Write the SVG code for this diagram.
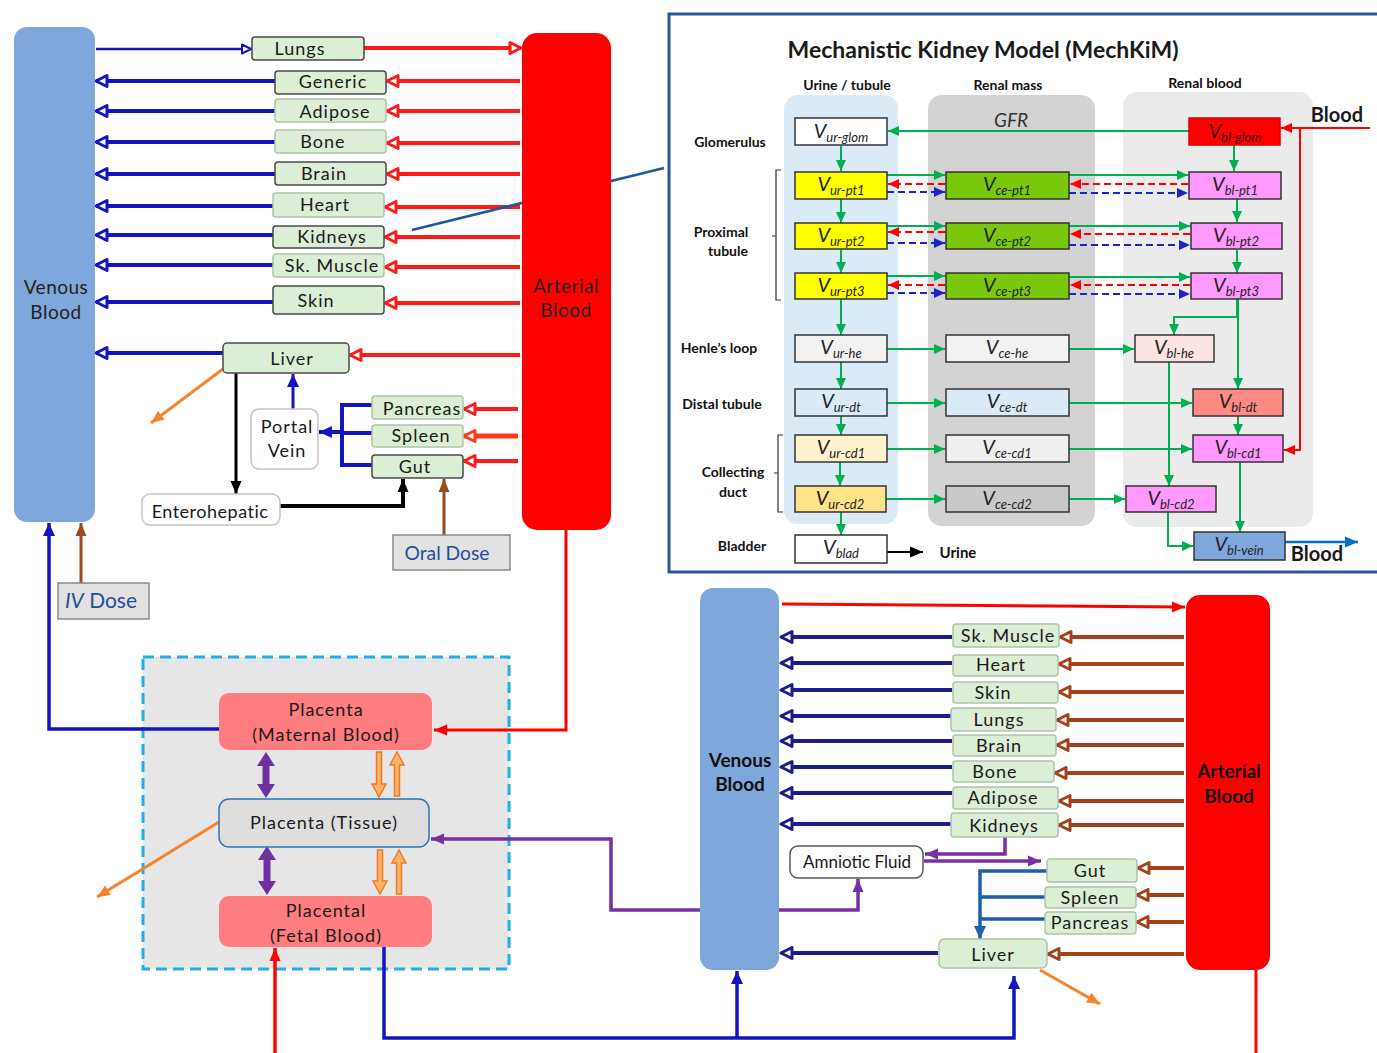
<svg xmlns="http://www.w3.org/2000/svg" width="1377" height="1053" viewBox="0 0 1377 1053">
<style>
  text{font-family:Lato,"Open Sans","Liberation Sans",sans-serif;fill:#1a1a1a}
  .org{fill:#DCEED5;stroke:#4a4a4a;stroke-width:1.5}
  .orgl{fill:#DCEED5;stroke:#b0c4aa;stroke-width:1.5}
  .lb{font-size:18px;text-anchor:middle;letter-spacing:1px}
  .vein{fill:#7FA7DB}
  .art{fill:#FF0000}
  .bigb{font-size:19px;text-anchor:middle;font-weight:bold;fill:#111}
  .bign{font-size:19px;text-anchor:middle;letter-spacing:0.5px;fill:#222}
  .wbox{fill:#fff;stroke:#c4c4c4;stroke-width:1.5}
  .pl{fill:#FF7C80}
  .kb{stroke:#333;stroke-width:1.5}
  .kv{font-size:20px;font-style:italic;text-anchor:middle;fill:#222}
  .ks{font-size:13px}
  .kl{font-size:14px;font-weight:bold;text-anchor:middle;fill:#111}
  .b4{stroke:#1414C3;stroke-width:4;fill:none}
  .r4{stroke:#FF1A1A;stroke-width:4;fill:none}
  .nv{stroke:#1C1C8E;stroke-width:4;fill:none}
  .br{stroke:#A3421A;stroke-width:4;fill:none}
  .g2{stroke:#00B050;stroke-width:2;fill:none}
  .rd{stroke:#FF0000;stroke-width:2;fill:none;stroke-dasharray:7 4}
  .bd{stroke:#2020C8;stroke-width:2;fill:none;stroke-dasharray:7 4}
  .pu{stroke:#7B2FA6;stroke-width:3.5;fill:none}
  .or{stroke:#F7842A;stroke-width:3;fill:none}
  .blk{stroke:#000;fill:none}
  .oa{fill:#FFB26B;stroke:#F0781E;stroke-width:1.5}
  .pa{fill:#7030A0}
</style>
<defs>
  <marker id="hBlue" markerUnits="userSpaceOnUse" markerWidth="16" markerHeight="16" viewBox="0 0 16 16" refX="14" refY="8" orient="auto">
    <path d="M3,2.5 L14,8 L3,13.5 Z" fill="#fff" stroke="#1414C3" stroke-width="3" stroke-linejoin="round"/>
  </marker>
  <marker id="hBlueS" markerUnits="userSpaceOnUse" markerWidth="14" markerHeight="14" viewBox="0 0 14 14" refX="12" refY="7" orient="auto">
    <path d="M3,2.5 L12,7 L3,11.5 Z" fill="#fff" stroke="#1414C3" stroke-width="2" stroke-linejoin="round"/>
  </marker>
  <marker id="hRed" markerUnits="userSpaceOnUse" markerWidth="16" markerHeight="16" viewBox="0 0 16 16" refX="14" refY="8" orient="auto">
    <path d="M3,2.5 L14,8 L3,13.5 Z" fill="#fff" stroke="#FF1A1A" stroke-width="3" stroke-linejoin="round"/>
  </marker>
  <marker id="hOrRed" markerUnits="userSpaceOnUse" markerWidth="16" markerHeight="16" viewBox="0 0 16 16" refX="14" refY="8" orient="auto">
    <path d="M3,2.5 L14,8 L3,13.5 Z" fill="#fff" stroke="#FF3A1A" stroke-width="3" stroke-linejoin="round"/>
  </marker>
  <marker id="hNavy" markerUnits="userSpaceOnUse" markerWidth="16" markerHeight="16" viewBox="0 0 16 16" refX="14" refY="8" orient="auto">
    <path d="M3,2.5 L14,8 L3,13.5 Z" fill="#fff" stroke="#1C1C8E" stroke-width="3" stroke-linejoin="round"/>
  </marker>
  <marker id="hBrown" markerUnits="userSpaceOnUse" markerWidth="16" markerHeight="16" viewBox="0 0 16 16" refX="14" refY="8" orient="auto">
    <path d="M3,2.5 L14,8 L3,13.5 Z" fill="#fff" stroke="#A3421A" stroke-width="3" stroke-linejoin="round"/>
  </marker>
  <marker id="fBlue" markerUnits="userSpaceOnUse" markerWidth="14" markerHeight="14" viewBox="0 0 14 14" refX="13" refY="7" orient="auto">
    <path d="M0,1 L13,7 L0,13 Z" fill="#1414C3"/>
  </marker>
  <marker id="fMed" markerUnits="userSpaceOnUse" markerWidth="14" markerHeight="14" viewBox="0 0 14 14" refX="13" refY="7" orient="auto">
    <path d="M0,1 L13,7 L0,13 Z" fill="#1F5FAA"/>
  </marker>
  <marker id="fRed" markerUnits="userSpaceOnUse" markerWidth="14" markerHeight="14" viewBox="0 0 14 14" refX="13" refY="7" orient="auto">
    <path d="M0,1.5 L13,7 L0,12.5 Z" fill="#FF0000"/>
  </marker>
  <marker id="fBlack" markerUnits="userSpaceOnUse" markerWidth="14" markerHeight="14" viewBox="0 0 14 14" refX="13" refY="7" orient="auto">
    <path d="M0,1.5 L13,7 L0,12.5 Z" fill="#000"/>
  </marker>
  <marker id="fBrown" markerUnits="userSpaceOnUse" markerWidth="14" markerHeight="14" viewBox="0 0 14 14" refX="13" refY="7" orient="auto">
    <path d="M0,1.5 L13,7 L0,12.5 Z" fill="#9B4A1C"/>
  </marker>
  <marker id="fOrange" markerUnits="userSpaceOnUse" markerWidth="14" markerHeight="14" viewBox="0 0 14 14" refX="13" refY="7" orient="auto">
    <path d="M0,1.5 L13,7 L0,12.5 Z" fill="#F7842A"/>
  </marker>
  <marker id="fPurple" markerUnits="userSpaceOnUse" markerWidth="14" markerHeight="14" viewBox="0 0 14 14" refX="13" refY="7" orient="auto">
    <path d="M0,1.5 L13,7 L0,12.5 Z" fill="#7B2FA6"/>
  </marker>
  <marker id="fGreen" markerUnits="userSpaceOnUse" markerWidth="12" markerHeight="12" viewBox="0 0 12 12" refX="11" refY="6" orient="auto">
    <path d="M0,1 L11,6 L0,11 Z" fill="#00B050"/>
  </marker>
  <marker id="fKRed" markerUnits="userSpaceOnUse" markerWidth="12" markerHeight="12" viewBox="0 0 12 12" refX="11" refY="6" orient="auto">
    <path d="M0,1 L11,6 L0,11 Z" fill="#FF0000"/>
  </marker>
  <marker id="fKBlue" markerUnits="userSpaceOnUse" markerWidth="12" markerHeight="12" viewBox="0 0 12 12" refX="11" refY="6" orient="auto">
    <path d="M0,1 L11,6 L0,11 Z" fill="#2020C8"/>
  </marker>
  <marker id="fSky" markerUnits="userSpaceOnUse" markerWidth="14" markerHeight="14" viewBox="0 0 14 14" refX="13" refY="7" orient="auto">
    <path d="M0,1.5 L13,7 L0,12.5 Z" fill="#0070C0"/>
  </marker>
</defs>

<!-- panels and frames drawn underneath everything -->
<g id="backgrounds">
  <rect x="669" y="14" width="720" height="558" fill="#fff" stroke="#2A5699" stroke-width="3"/>
  <rect x="784" y="95" width="114" height="429" rx="14" fill="#DAEAF7"/>
  <rect x="928" y="95" width="167" height="431" rx="14" fill="#D3D3D3"/>
  <rect x="1123" y="92" width="190" height="435" rx="14" fill="#EBEBEB"/>
  <rect x="143" y="657" width="366" height="312" fill="#E6E6E6" stroke="#1EB0EE" stroke-width="3" stroke-dasharray="11 6"/>
</g>

<g id="connectors">
  <!-- maternal whole body -->
  <line x1="96" y1="49" x2="251" y2="49" stroke="#1414C3" stroke-width="2.5" marker-end="url(#hBlueS)"/>
  <line x1="364" y1="48" x2="521" y2="48" class="r4" marker-end="url(#hRed)"/>
  <line x1="275" y1="81" x2="96" y2="81" class="b4" marker-end="url(#hBlue)"/>
  <line x1="520" y1="81" x2="387" y2="81" class="r4" marker-end="url(#hRed)"/>
  <line x1="275" y1="111" x2="96" y2="111" class="b4" marker-end="url(#hBlue)"/>
  <line x1="520" y1="111" x2="387" y2="111" class="r4" marker-end="url(#hRed)"/>
  <line x1="275" y1="142" x2="96" y2="142" class="b4" marker-end="url(#hBlue)"/>
  <line x1="520" y1="143" x2="387" y2="143" class="r4" marker-end="url(#hRed)"/>
  <line x1="275" y1="174" x2="96" y2="174" class="b4" marker-end="url(#hBlue)"/>
  <line x1="520" y1="174" x2="387" y2="174" class="r4" marker-end="url(#hRed)"/>
  <line x1="273" y1="206" x2="96" y2="206" class="b4" marker-end="url(#hBlue)"/>
  <line x1="520" y1="207" x2="385" y2="207" class="r4" marker-end="url(#hRed)"/>
  <line x1="273" y1="235" x2="96" y2="235" class="b4" marker-end="url(#hBlue)"/>
  <line x1="520" y1="237" x2="385" y2="237" class="r4" marker-end="url(#hRed)"/>
  <line x1="273" y1="265" x2="96" y2="265" class="b4" marker-end="url(#hBlue)"/>
  <line x1="520" y1="267" x2="385" y2="267" class="r4" marker-end="url(#hRed)"/>
  <line x1="273" y1="302" x2="96" y2="302" class="b4" marker-end="url(#hBlue)"/>
  <line x1="520" y1="303" x2="385" y2="303" class="r4" marker-end="url(#hRed)"/>
  <line x1="412" y1="230" x2="664" y2="168" stroke="#1F5A96" stroke-width="2.5"/>
  <!-- liver and splanchnic organs -->
  <line x1="223" y1="353" x2="96" y2="353" class="b4" marker-end="url(#hBlue)"/>
  <line x1="520" y1="355" x2="350" y2="355" class="r4" marker-end="url(#hRed)"/>
  <line x1="223" y1="369" x2="151" y2="423" class="or" marker-end="url(#fOrange)"/>
  <line x1="236" y1="373" x2="236" y2="494" class="blk" stroke-width="3" marker-end="url(#fBlack)"/>
  <polyline points="280,506 403,506 403,479" class="blk" stroke-width="4" marker-end="url(#fBlack)"/>
  <line x1="293" y1="409" x2="293" y2="374" stroke="#1414C3" stroke-width="3" marker-end="url(#fBlue)"/>
  <polyline points="372,405 342,405 342,465 372,465" class="b4"/>
  <line x1="372" y1="433" x2="342" y2="433" class="b4"/>
  <line x1="342" y1="432" x2="319" y2="432" stroke="#1414C3" stroke-width="4" marker-end="url(#fBlue)"/>
  <line x1="518" y1="409" x2="464" y2="409" class="r4" marker-end="url(#hRed)"/>
  <line x1="518" y1="436" x2="464" y2="436" stroke="#FF3A1A" stroke-width="5" marker-end="url(#hOrRed)"/>
  <line x1="518" y1="461" x2="464" y2="461" class="r4" marker-end="url(#hRed)"/>
  <line x1="444" y1="535" x2="444" y2="479" stroke="#9B4A1C" stroke-width="3" marker-end="url(#fBrown)"/>
  <line x1="81" y1="583" x2="81" y2="523" stroke="#9B4A1C" stroke-width="3" marker-end="url(#fBrown)"/>
  <polyline points="220,729 49,729 49,523" stroke="#1414C3" stroke-width="3.5" fill="none" marker-end="url(#fBlue)"/>
  <polyline points="566,530 566,730 434,730" stroke="#FF0000" stroke-width="3" fill="none" marker-end="url(#fRed)"/>
  <!-- placenta -->
  <line x1="219" y1="822" x2="97" y2="897" class="or" marker-end="url(#fOrange)"/>
  <polyline points="700,910 611,910 611,839 431,839" class="pu" stroke-width="3" marker-end="url(#fPurple)"/>
  <line x1="275" y1="1053" x2="275" y2="948" stroke="#FF0000" stroke-width="3.5" marker-end="url(#fRed)"/>
  <polyline points="384,947 384,1038 1014,1038 1014,976" stroke="#1414C3" stroke-width="3.5" fill="none" marker-end="url(#fBlue)"/>
  <line x1="737" y1="1038" x2="737" y2="971" stroke="#1414C3" stroke-width="3.5" marker-end="url(#fBlue)"/>
  <!-- fetal whole body -->
  <line x1="782" y1="604" x2="1185" y2="607" stroke="#FF0000" stroke-width="3" marker-end="url(#fRed)"/>
  <line x1="952" y1="637" x2="781" y2="637" class="nv" marker-end="url(#hNavy)"/>
  <line x1="1184" y1="637" x2="1060" y2="637" class="br" marker-end="url(#hBrown)"/>
  <line x1="952" y1="663" x2="781" y2="663" class="nv" marker-end="url(#hNavy)"/>
  <line x1="1184" y1="664" x2="1059" y2="664" class="br" marker-end="url(#hBrown)"/>
  <line x1="952" y1="690" x2="781" y2="690" class="nv" marker-end="url(#hNavy)"/>
  <line x1="1184" y1="692" x2="1059" y2="692" class="br" marker-end="url(#hBrown)"/>
  <line x1="951" y1="716" x2="781" y2="716" class="nv" marker-end="url(#hNavy)"/>
  <line x1="1184" y1="720" x2="1057" y2="720" class="br" marker-end="url(#hBrown)"/>
  <line x1="952" y1="741" x2="781" y2="741" class="nv" marker-end="url(#hNavy)"/>
  <line x1="1184" y1="745" x2="1057" y2="745" class="br" marker-end="url(#hBrown)"/>
  <line x1="952" y1="767" x2="781" y2="767" class="nv" marker-end="url(#hNavy)"/>
  <line x1="1184" y1="773" x2="1055" y2="773" class="br" marker-end="url(#hBrown)"/>
  <line x1="952" y1="793" x2="781" y2="793" class="nv" marker-end="url(#hNavy)"/>
  <line x1="1184" y1="801" x2="1059" y2="801" class="br" marker-end="url(#hBrown)"/>
  <line x1="951" y1="824" x2="781" y2="824" class="nv" marker-end="url(#hNavy)"/>
  <line x1="1184" y1="825" x2="1059" y2="825" class="br" marker-end="url(#hBrown)"/>
  <polyline points="1005,837 1005,854 925,854" class="pu" marker-end="url(#fPurple)"/>
  <line x1="924" y1="861" x2="1041" y2="861" class="pu" marker-end="url(#fPurple)"/>
  <polyline points="779,910 858,910 858,879" class="pu" marker-end="url(#fPurple)"/>
  <polyline points="1047,871 980,871 980,939" stroke="#1F5FAA" stroke-width="3.5" fill="none" marker-end="url(#fMed)"/>
  <line x1="1045" y1="897" x2="980" y2="897" stroke="#1F5FAA" stroke-width="3.5"/>
  <line x1="1045" y1="919" x2="980" y2="919" stroke="#1F5FAA" stroke-width="3.5"/>
  <line x1="938" y1="953" x2="781" y2="953" class="nv" marker-end="url(#hNavy)"/>
  <line x1="1184" y1="868" x2="1138" y2="868" class="br" marker-end="url(#hBrown)"/>
  <line x1="1184" y1="895" x2="1137" y2="895" class="br" marker-end="url(#hBrown)"/>
  <line x1="1184" y1="922" x2="1137" y2="922" class="br" marker-end="url(#hBrown)"/>
  <line x1="1184" y1="954" x2="1048" y2="954" class="br" marker-end="url(#hBrown)"/>
  <line x1="1040" y1="970" x2="1100" y2="1004" class="or" marker-end="url(#fOrange)"/>
  <line x1="1256" y1="970" x2="1256" y2="1053" stroke="#FF0000" stroke-width="3"/>
  <!-- kidney model flows -->
  <line x1="841" y1="146" x2="841" y2="171" class="g2" marker-end="url(#fGreen)"/>
  <line x1="841" y1="199" x2="841" y2="223" class="g2" marker-end="url(#fGreen)"/>
  <line x1="841" y1="250" x2="841" y2="273" class="g2" marker-end="url(#fGreen)"/>
  <line x1="841" y1="299" x2="841" y2="335" class="g2" marker-end="url(#fGreen)"/>
  <line x1="841" y1="362" x2="841" y2="389" class="g2" marker-end="url(#fGreen)"/>
  <line x1="841" y1="416" x2="841" y2="435" class="g2" marker-end="url(#fGreen)"/>
  <line x1="840" y1="462" x2="840" y2="486" class="g2" marker-end="url(#fGreen)"/>
  <line x1="841" y1="512" x2="841" y2="535" class="g2" marker-end="url(#fGreen)"/>
  <line x1="1189" y1="131" x2="888" y2="131" class="g2" marker-end="url(#fGreen)"/>
  <line x1="887" y1="175" x2="945" y2="175" class="g2" marker-end="url(#fGreen)"/>
  <line x1="1069" y1="175" x2="1188" y2="175" class="g2" marker-end="url(#fGreen)"/>
  <line x1="945" y1="184" x2="888" y2="184" class="rd" marker-end="url(#fKRed)"/>
  <line x1="1188" y1="184" x2="1070" y2="184" class="rd" marker-end="url(#fKRed)"/>
  <line x1="887" y1="192" x2="945" y2="192" class="bd" marker-end="url(#fKBlue)"/>
  <line x1="1069" y1="193" x2="1188" y2="193" class="bd" marker-end="url(#fKBlue)"/>
  <line x1="887" y1="226" x2="945" y2="226" class="g2" marker-end="url(#fGreen)"/>
  <line x1="1069" y1="226" x2="1190" y2="226" class="g2" marker-end="url(#fGreen)"/>
  <line x1="945" y1="232" x2="888" y2="232" class="rd" marker-end="url(#fKRed)"/>
  <line x1="1190" y1="234" x2="1070" y2="234" class="rd" marker-end="url(#fKRed)"/>
  <line x1="887" y1="243" x2="945" y2="243" class="bd" marker-end="url(#fKBlue)"/>
  <line x1="1069" y1="245" x2="1190" y2="245" class="bd" marker-end="url(#fKBlue)"/>
  <line x1="887" y1="276" x2="945" y2="276" class="g2" marker-end="url(#fGreen)"/>
  <line x1="1069" y1="277" x2="1190" y2="277" class="g2" marker-end="url(#fGreen)"/>
  <line x1="945" y1="285" x2="888" y2="285" class="rd" marker-end="url(#fKRed)"/>
  <line x1="1190" y1="285" x2="1070" y2="285" class="rd" marker-end="url(#fKRed)"/>
  <line x1="887" y1="293" x2="945" y2="293" class="bd" marker-end="url(#fKBlue)"/>
  <line x1="1069" y1="294" x2="1190" y2="294" class="bd" marker-end="url(#fKBlue)"/>
  <line x1="887" y1="349" x2="945" y2="349" class="g2" marker-end="url(#fGreen)"/>
  <line x1="1069" y1="349" x2="1134" y2="349" class="g2" marker-end="url(#fGreen)"/>
  <line x1="887" y1="403" x2="945" y2="403" class="g2" marker-end="url(#fGreen)"/>
  <line x1="1069" y1="403" x2="1192" y2="403" class="g2" marker-end="url(#fGreen)"/>
  <line x1="887" y1="449" x2="945" y2="449" class="g2" marker-end="url(#fGreen)"/>
  <line x1="1069" y1="449" x2="1192" y2="449" class="g2" marker-end="url(#fGreen)"/>
  <line x1="886" y1="499" x2="945" y2="499" class="g2" marker-end="url(#fGreen)"/>
  <line x1="1069" y1="499" x2="1125" y2="499" class="g2" marker-end="url(#fGreen)"/>
  <line x1="1234" y1="145" x2="1234" y2="171" class="g2" marker-end="url(#fGreen)"/>
  <line x1="1237" y1="199" x2="1237" y2="222" class="g2" marker-end="url(#fGreen)"/>
  <line x1="1237" y1="250" x2="1237" y2="273" class="g2" marker-end="url(#fGreen)"/>
  <polyline points="1237,299 1237,317 1174,317 1174,335" class="g2" marker-end="url(#fGreen)"/>
  <line x1="1238" y1="299" x2="1238" y2="389" class="g2" marker-end="url(#fGreen)"/>
  <line x1="1238" y1="416" x2="1238" y2="435" class="g2" marker-end="url(#fGreen)"/>
  <line x1="1240" y1="462" x2="1240" y2="532" class="g2" marker-end="url(#fGreen)"/>
  <line x1="1169" y1="362" x2="1169" y2="486" class="g2" marker-end="url(#fGreen)"/>
  <polyline points="1168,512 1168,546 1193,546" class="g2" marker-end="url(#fGreen)"/>
  <line x1="1370" y1="128" x2="1281" y2="128" stroke="#FF0000" stroke-width="2" marker-end="url(#fKRed)"/>
  <polyline points="1300,128 1300,450 1284,450" stroke="#FF0000" stroke-width="2" fill="none" marker-end="url(#fKRed)"/>
  <line x1="1285" y1="542" x2="1358" y2="542" stroke="#0070C0" stroke-width="2.5" marker-end="url(#fSky)"/>
  <line x1="887" y1="552" x2="923" y2="552" stroke="#000" stroke-width="2.2" marker-end="url(#fBlack)"/>
  <!-- placental exchange arrows -->
  <polygon class="pa" points="266,752 275,766 269.5,766 269.5,784 275,784 266,798 257,784 262.5,784 262.5,766 257,766"/>
  <polygon class="pa" points="267,846 276,860 270.5,860 270.5,881 276,881 267,895 258,881 263.5,881 263.5,860 258,860"/>
  <polygon class="oa" points="376.5,752 381.5,752 381.5,784 386,784 379,797 372,784 376.5,784"/>
  <polygon class="oa" points="394.5,796 399.5,796 399.5,765 404,765 397,752 390,765 394.5,765"/>
  <polygon class="oa" points="377.5,850 382.5,850 382.5,881 387,881 380,894 373,881 377.5,881"/>
  <polygon class="oa" points="396.5,894 401.5,894 401.5,863 406,863 399,850 392,863 396.5,863"/>
</g>

<!-- maternal compartments -->
<g id="m-venous"><rect x="14" y="27" width="81" height="495" rx="13" class="vein"/>
  <text x="56" y="294" class="bign">Venous</text><text x="56" y="319" class="bign">Blood</text></g>
<g id="m-arterial"><rect x="522" y="33" width="89" height="497" rx="15" class="art"/>
  <text x="566" y="293" class="bign">Arterial</text><text x="566" y="317" class="bign">Blood</text></g>
<g id="m-lungs"><rect x="252" y="37" width="112" height="23" rx="3" class="org"/><text x="300" y="55" class="lb">Lungs</text></g>
<g id="m-generic"><rect x="275" y="71" width="111" height="23" rx="3" class="org"/><text x="333" y="88" class="lb">Generic</text></g>
<g id="m-adipose"><rect x="275" y="99" width="111" height="23" rx="3" class="orgl"/><text x="335" y="118" class="lb">Adipose</text></g>
<g id="m-bone"><rect x="275" y="130" width="111" height="23" rx="3" class="orgl"/><text x="323" y="148" class="lb">Bone</text></g>
<g id="m-brain"><rect x="275" y="162" width="111" height="23" rx="3" class="org"/><text x="324" y="180" class="lb">Brain</text></g>
<g id="m-heart"><rect x="273" y="193" width="111" height="24" rx="3" class="orgl"/><text x="325" y="211" class="lb">Heart</text></g>
<g id="m-kidneys"><rect x="273" y="226" width="111" height="22" rx="3" class="org"/><text x="332" y="243" class="lb">Kidneys</text></g>
<g id="m-muscle"><rect x="273" y="254" width="111" height="23" rx="3" class="orgl"/><text x="332" y="272" class="lb">Sk. Muscle</text></g>
<g id="m-skin"><rect x="273" y="286" width="111" height="28" rx="3" class="org"/><text x="316" y="307" class="lb">Skin</text></g>
<g id="m-liver"><rect x="223" y="343" width="126" height="30" rx="4" class="org"/><text x="292" y="365" class="lb">Liver</text></g>
<g id="m-portal"><rect x="251" y="409" width="67" height="60" rx="8" class="wbox"/>
  <text x="287" y="433" class="lb">Portal</text><text x="287" y="457" class="lb">Vein</text></g>
<g id="m-pancreas"><rect x="372" y="396" width="91" height="23" rx="3" class="orgl"/><text x="422" y="415" class="lb">Pancreas</text></g>
<g id="m-spleen"><rect x="372" y="425" width="91" height="22" rx="3" class="orgl"/><text x="421" y="442" class="lb">Spleen</text></g>
<g id="m-gut"><rect x="372" y="455" width="91" height="23" rx="3" class="org"/><text x="415" y="473" class="lb">Gut</text></g>
<g id="m-entero"><rect x="142" y="494" width="138" height="31" rx="8" class="wbox"/><text x="210" y="518" class="lb" style="letter-spacing:0.5px">Enterohepatic</text></g>
<g id="oral-dose"><rect x="393" y="535" width="117" height="35" fill="#E2E2E2" stroke="#8a8a8a" stroke-width="1.5"/>
  <text x="447" y="560" font-size="20" text-anchor="middle" style="fill:#1F4E9C" textLength="85" lengthAdjust="spacingAndGlyphs">Oral Dose</text></g>
<g id="iv-dose"><rect x="58" y="583" width="91" height="36" fill="#E2E2E2" stroke="#8a8a8a" stroke-width="1.5"/>
  <text x="101" y="608" font-size="21" text-anchor="middle" style="fill:#1F4E9C"><tspan font-style="italic">IV</tspan> Dose</text></g>

<!-- placenta -->
<g id="placenta-maternal"><rect x="219" y="693" width="213" height="57" rx="10" class="pl"/>
  <text x="326" y="716" class="lb">Placenta</text><text x="326" y="741" class="lb">(Maternal Blood)</text></g>
<g id="placenta-tissue"><rect x="219" y="799" width="210" height="48" rx="10" fill="#DEDEDE" stroke="#2E75B6" stroke-width="1.5"/>
  <text x="324" y="829" class="lb">Placenta (Tissue)</text></g>
<g id="placenta-fetal"><rect x="219" y="896" width="213" height="51" rx="10" class="pl"/>
  <text x="326" y="917" class="lb">Placental</text><text x="326" y="942" class="lb">(Fetal Blood)</text></g>

<!-- fetal compartments -->
<g id="f-venous"><rect x="700" y="588" width="79" height="382" rx="13" class="vein"/>
  <text x="740" y="767" class="bigb">Venous</text><text x="740" y="791" class="bigb">Blood</text></g>
<g id="f-arterial"><rect x="1186" y="595" width="84" height="375" rx="14" class="art"/>
  <text x="1229" y="778" class="bigb">Arterial</text><text x="1229" y="803" class="bigb">Blood</text></g>
<g id="f-muscle"><rect x="953" y="624" width="106" height="23" rx="3" class="orgl"/><text x="1008" y="642" class="lb">Sk. Muscle</text></g>
<g id="f-heart"><rect x="953" y="655" width="105" height="21" rx="3" class="orgl"/><text x="1001" y="671" class="lb">Heart</text></g>
<g id="f-skin"><rect x="953" y="682" width="105" height="21" rx="3" class="orgl"/><text x="993" y="699" class="lb">Skin</text></g>
<g id="f-lungs"><rect x="951" y="708" width="105" height="23" rx="3" class="orgl"/><text x="999" y="726" class="lb">Lungs</text></g>
<g id="f-brain"><rect x="953" y="735" width="103" height="21" rx="3" class="orgl"/><text x="999" y="752" class="lb">Brain</text></g>
<g id="f-bone"><rect x="953" y="761" width="101" height="21" rx="3" class="orgl"/><text x="995" y="778" class="lb">Bone</text></g>
<g id="f-adipose"><rect x="953" y="787" width="105" height="22" rx="3" class="orgl"/><text x="1003" y="804" class="lb">Adipose</text></g>
<g id="f-kidneys"><rect x="951" y="813" width="107" height="24" rx="3" class="orgl"/><text x="1004" y="832" class="lb">Kidneys</text></g>
<g id="f-amniotic"><rect x="790" y="846" width="133" height="32" rx="8" fill="#fff" stroke="#555" stroke-width="1.5"/>
  <text x="857" y="868" class="lb" style="font-size:17px;letter-spacing:0">Amniotic Fluid</text></g>
<g id="f-gut"><rect x="1047" y="859" width="90" height="23" rx="3" class="orgl"/><text x="1090" y="877" class="lb">Gut</text></g>
<g id="f-spleen"><rect x="1045" y="887" width="91" height="21" rx="3" class="orgl"/><text x="1090" y="904" class="lb">Spleen</text></g>
<g id="f-pancreas"><rect x="1045" y="912" width="91" height="22" rx="3" class="orgl"/><text x="1090" y="929" class="lb">Pancreas</text></g>
<g id="f-liver"><rect x="939" y="939" width="108" height="29" rx="5" class="orgl"/><text x="993" y="961" class="lb">Liver</text></g>

<!-- mechanistic kidney model -->
<g id="kidney-labels">
  <text x="983" y="58" font-size="22" font-weight="bold" text-anchor="middle" textLength="391" lengthAdjust="spacingAndGlyphs">Mechanistic Kidney Model (MechKiM)</text>
  <text x="847" y="90" class="kl">Urine / tubule</text>
  <text x="1008" y="90" class="kl">Renal mass</text>
  <text x="1205" y="88" class="kl">Renal blood</text>
  <text x="1011" y="127" font-size="19" font-style="italic" text-anchor="middle" style="fill:#333">GFR</text>
  <text x="730" y="147" class="kl">Glomerulus</text>
  <text x="721" y="237" class="kl">Proximal</text>
  <text x="728" y="256" class="kl">tubule</text>
  <text x="719" y="353" class="kl">Henle’s loop</text>
  <text x="722" y="409" class="kl">Distal tubule</text>
  <text x="733" y="477" class="kl">Collecting</text>
  <text x="733" y="497" class="kl">duct</text>
  <text x="742" y="551" class="kl">Bladder</text>
  <text x="958" y="558" class="kl" style="font-size:15px">Urine</text>
  <text x="1337" y="122" font-size="20" font-weight="bold" text-anchor="middle">Blood</text>
  <text x="1317" y="561" font-size="20" font-weight="bold" text-anchor="middle">Blood</text>
  <path d="M781,170 L776,170 L776,300 L781,300 M776,236 L772,236" stroke="#333" stroke-width="1.2" fill="none"/>
  <path d="M783,435 L778,435 L778,512 L783,512 M778,473 L774,473" stroke="#333" stroke-width="1.2" fill="none"/>
</g>
<g id="k-ur-glom"><rect x="795" y="118" width="92" height="27" class="kb" fill="#fff"/><text x="841" y="138" class="kv">V<tspan class="ks" dy="4">ur-glom</tspan></text></g>
<g id="k-ur-pt1"><rect x="795" y="172" width="92" height="27" class="kb" fill="#FFFF00"/><text x="841" y="191" class="kv">V<tspan class="ks" dy="4">ur-pt1</tspan></text></g>
<g id="k-ur-pt2"><rect x="795" y="223" width="92" height="26" class="kb" fill="#FFFF00"/><text x="841" y="242" class="kv">V<tspan class="ks" dy="4">ur-pt2</tspan></text></g>
<g id="k-ur-pt3"><rect x="795" y="273" width="92" height="26" class="kb" fill="#FFFF00"/><text x="841" y="292" class="kv">V<tspan class="ks" dy="4">ur-pt3</tspan></text></g>
<g id="k-ur-he"><rect x="795" y="335" width="92" height="27" class="kb" fill="#F2F2F2"/><text x="841" y="354" class="kv">V<tspan class="ks" dy="4">ur-he</tspan></text></g>
<g id="k-ur-dt"><rect x="795" y="389" width="92" height="27" class="kb" fill="#DAEAF7"/><text x="841" y="408" class="kv">V<tspan class="ks" dy="4">ur-dt</tspan></text></g>
<g id="k-ur-cd1"><rect x="795" y="435" width="92" height="27" class="kb" fill="#FFF2CC"/><text x="841" y="454" class="kv">V<tspan class="ks" dy="4">ur-cd1</tspan></text></g>
<g id="k-ur-cd2"><rect x="795" y="486" width="91" height="26" class="kb" fill="#FFE28A"/><text x="840" y="505" class="kv">V<tspan class="ks" dy="4">ur-cd2</tspan></text></g>
<g id="k-blad"><rect x="795" y="535" width="92" height="28" class="kb" fill="#fff"/><text x="841" y="554" class="kv">V<tspan class="ks" dy="4">blad</tspan></text></g>
<g id="k-ce-pt1"><rect x="946" y="172" width="123" height="27" class="kb" fill="#7AC70C"/><text x="1007" y="191" class="kv">V<tspan class="ks" dy="4">ce-pt1</tspan></text></g>
<g id="k-ce-pt2"><rect x="946" y="223" width="123" height="26" class="kb" fill="#7AC70C"/><text x="1007" y="242" class="kv">V<tspan class="ks" dy="4">ce-pt2</tspan></text></g>
<g id="k-ce-pt3"><rect x="946" y="273" width="123" height="26" class="kb" fill="#7AC70C"/><text x="1007" y="292" class="kv">V<tspan class="ks" dy="4">ce-pt3</tspan></text></g>
<g id="k-ce-he"><rect x="946" y="335" width="123" height="27" class="kb" fill="#F2F2F2"/><text x="1007" y="354" class="kv">V<tspan class="ks" dy="4">ce-he</tspan></text></g>
<g id="k-ce-dt"><rect x="946" y="389" width="123" height="27" class="kb" fill="#DAEAF7"/><text x="1007" y="408" class="kv">V<tspan class="ks" dy="4">ce-dt</tspan></text></g>
<g id="k-ce-cd1"><rect x="946" y="435" width="123" height="27" class="kb" fill="#EFEFEF"/><text x="1007" y="454" class="kv">V<tspan class="ks" dy="4">ce-cd1</tspan></text></g>
<g id="k-ce-cd2"><rect x="946" y="486" width="123" height="26" class="kb" fill="#C9C9C9"/><text x="1007" y="505" class="kv">V<tspan class="ks" dy="4">ce-cd2</tspan></text></g>
<g id="k-bl-glom"><rect x="1189" y="118" width="91" height="27" fill="#FF0000" stroke="#e00000" stroke-width="1.5"/><text x="1235" y="138" class="kv" style="fill:#3a0000">V<tspan class="ks" dy="4">bl-glom</tspan></text></g>
<g id="k-bl-pt1"><rect x="1189" y="172" width="92" height="27" class="kb" fill="#FF99FF"/><text x="1235" y="191" class="kv">V<tspan class="ks" dy="4">bl-pt1</tspan></text></g>
<g id="k-bl-pt2"><rect x="1191" y="223" width="91" height="26" class="kb" fill="#FF99FF"/><text x="1236" y="242" class="kv">V<tspan class="ks" dy="4">bl-pt2</tspan></text></g>
<g id="k-bl-pt3"><rect x="1191" y="273" width="91" height="26" class="kb" fill="#FF99FF"/><text x="1236" y="292" class="kv">V<tspan class="ks" dy="4">bl-pt3</tspan></text></g>
<g id="k-bl-he"><rect x="1135" y="335" width="79" height="27" class="kb" fill="#FDE4E4"/><text x="1174" y="354" class="kv">V<tspan class="ks" dy="4">bl-he</tspan></text></g>
<g id="k-bl-dt"><rect x="1193" y="389" width="90" height="27" class="kb" fill="#FF8A85"/><text x="1238" y="408" class="kv">V<tspan class="ks" dy="4">bl-dt</tspan></text></g>
<g id="k-bl-cd1"><rect x="1193" y="435" width="90" height="27" class="kb" fill="#FF99FF"/><text x="1238" y="454" class="kv">V<tspan class="ks" dy="4">bl-cd1</tspan></text></g>
<g id="k-bl-cd2"><rect x="1126" y="486" width="90" height="26" class="kb" fill="#FF99FF"/><text x="1171" y="505" class="kv">V<tspan class="ks" dy="4">bl-cd2</tspan></text></g>
<g id="k-bl-vein"><rect x="1194" y="532" width="91" height="28" class="kb" fill="#7FA7DB"/><text x="1239" y="551" class="kv">V<tspan class="ks" dy="4">bl-vein</tspan></text></g>
</svg>
